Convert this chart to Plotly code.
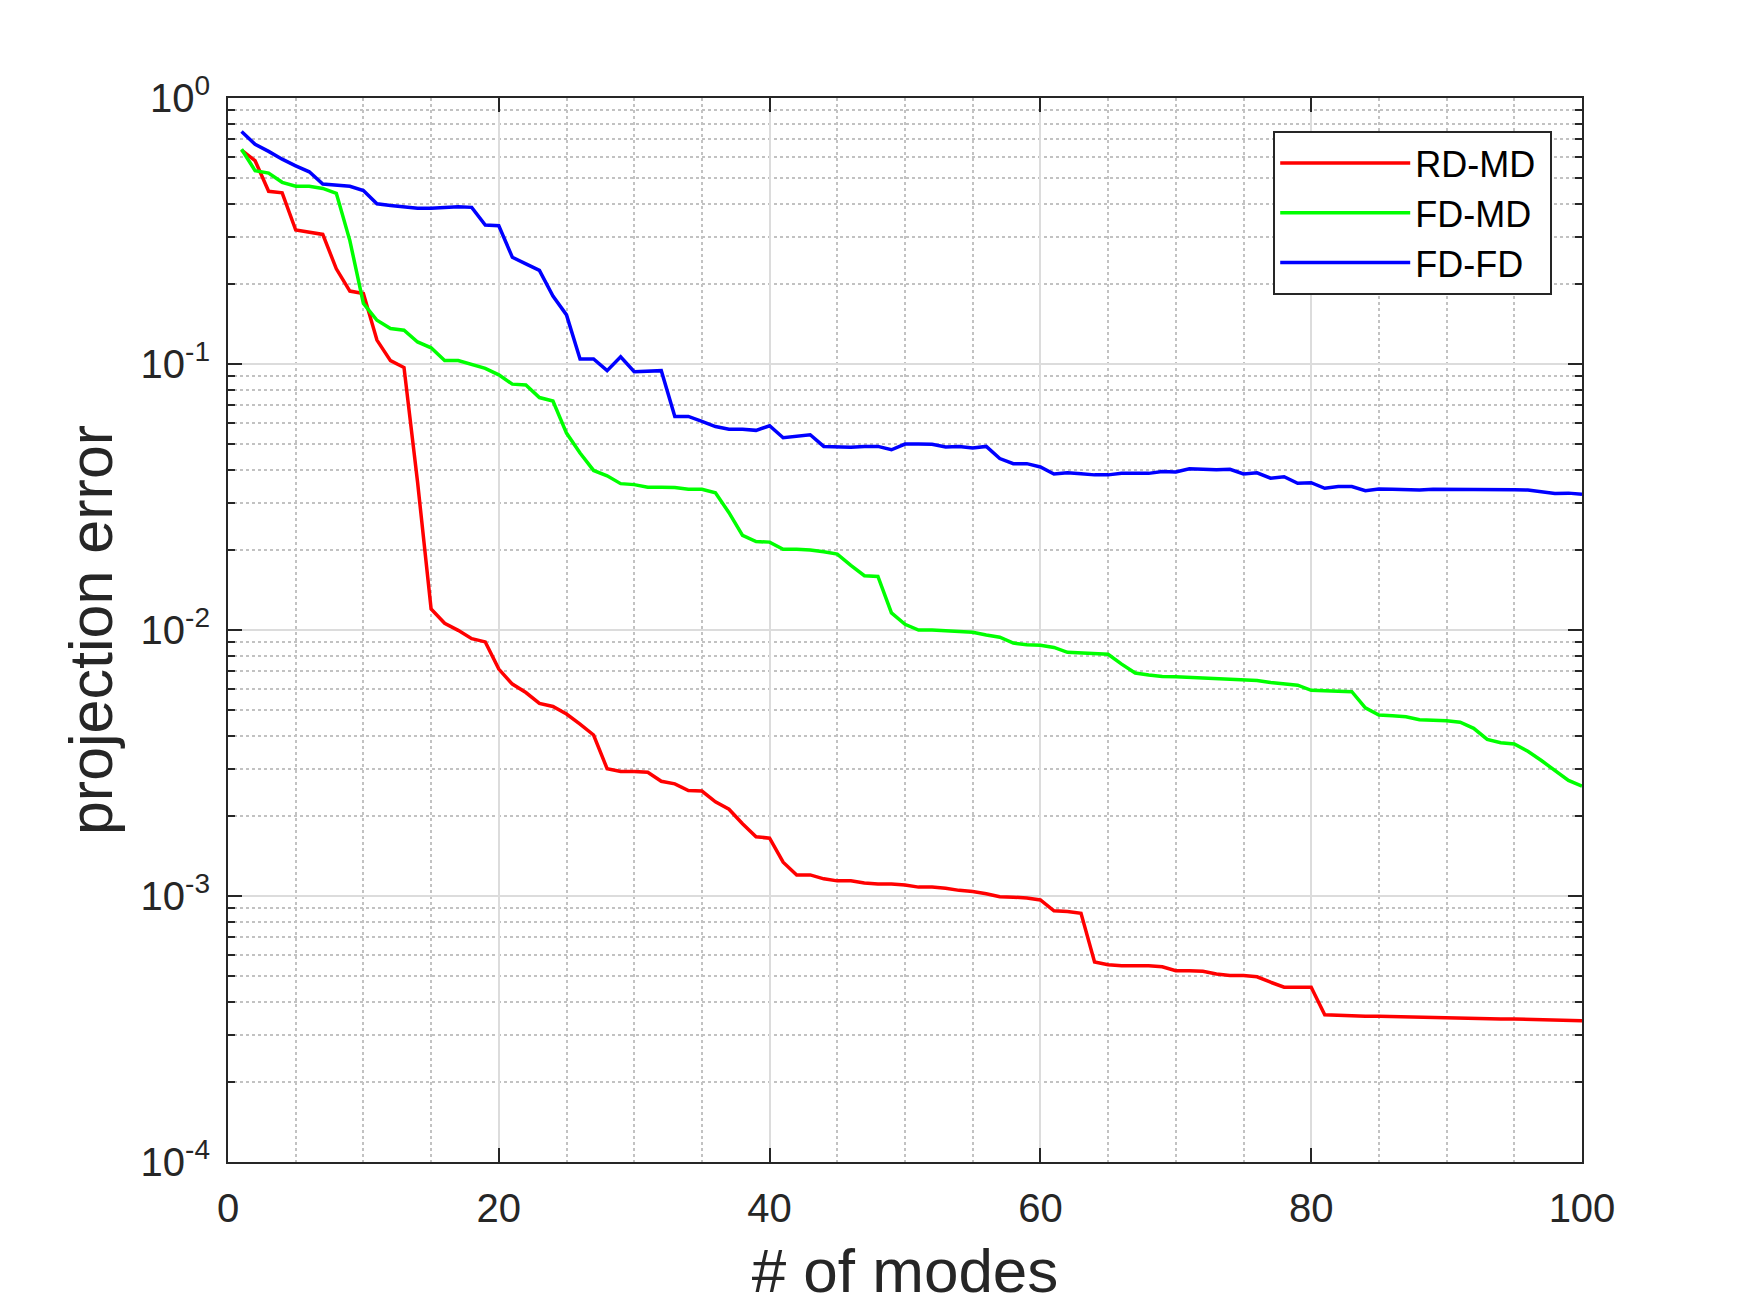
import plotly.graph_objects as go

# number of modes on the x axis
modes = list(range(1, 101))

rd_md = [0.637, 0.581, 0.446, 0.440, 0.319, 0.313, 0.307, 0.228, 0.188, 0.184,
         0.123, 0.103, 0.097, 0.036, 0.0120, 0.0106, 0.00997, 0.00928, 0.00902, 0.00713,
         0.00626, 0.00582, 0.00530, 0.00516, 0.00483, 0.00443, 0.00403, 0.00301, 0.00294, 0.00294,
         0.00292, 0.00270, 0.00264, 0.00249, 0.00248, 0.00226, 0.00212, 0.00187, 0.00167, 0.00165,
         0.00134, 0.00120, 0.00120, 0.00116, 0.00114, 0.00114, 0.00112, 0.00111, 0.00111, 0.00110,
         0.00108, 0.00108, 0.00107, 0.00105, 0.00104, 0.00102, 0.000994, 0.000990, 0.000983, 0.000966,
         0.000880, 0.000874, 0.000861, 0.000565, 0.000552, 0.000547, 0.000547, 0.000547, 0.000542, 0.000524,
         0.000524, 0.000521, 0.000509, 0.000503, 0.000502, 0.000497, 0.000474, 0.000454, 0.000454, 0.000454,
         0.000358, 0.000356, 0.000354, 0.000353, 0.000353, 0.000352, 0.000350, 0.000350, 0.000350, 0.000349,
         0.000348, 0.000346, 0.000346, 0.000345, 0.000345, 0.000344, 0.000343, 0.000342, 0.000341, 0.000340]

fd_md = [0.642, 0.533, 0.522, 0.482, 0.466, 0.466, 0.457, 0.438, 0.291, 0.169,
         0.146, 0.136, 0.134, 0.121, 0.115, 0.103, 0.103, 0.0999, 0.0963, 0.0910,
         0.0840, 0.0834, 0.0748, 0.0726, 0.0550, 0.0463, 0.0398, 0.0380, 0.0355, 0.0352,
         0.0344, 0.0344, 0.0343, 0.0338, 0.0338, 0.0328, 0.0276, 0.0227, 0.0215, 0.0214,
         0.0201, 0.0201, 0.0200, 0.0197, 0.0193, 0.0175, 0.0160, 0.0159, 0.0116, 0.0105,
         0.0100, 0.00999, 0.00994, 0.00990, 0.00980, 0.00957, 0.00940, 0.00893, 0.00880, 0.00876,
         0.00860, 0.00824, 0.00820, 0.00815, 0.00810, 0.00744, 0.00689, 0.00677, 0.00669, 0.00667,
         0.00663, 0.00659, 0.00657, 0.00654, 0.00652, 0.00646, 0.00635, 0.00629, 0.00620, 0.00593,
         0.00591, 0.00590, 0.00586, 0.00510, 0.00479, 0.00476, 0.00472, 0.00460, 0.00459, 0.00456,
         0.00450, 0.00427, 0.00388, 0.00377, 0.00373, 0.00350, 0.00323, 0.00296, 0.00272, 0.00259]

fd_fd = [0.748, 0.670, 0.630, 0.589, 0.556, 0.528, 0.475, 0.471, 0.466, 0.449,
         0.400, 0.394, 0.388, 0.385, 0.385, 0.387, 0.390, 0.388, 0.333, 0.331,
         0.252, 0.238, 0.225, 0.180, 0.153, 0.1044, 0.1044, 0.0944, 0.1065, 0.0936,
         0.0940, 0.0944, 0.0635, 0.0635, 0.0608, 0.0582, 0.0569, 0.0569, 0.0563, 0.0586,
         0.0528, 0.0534, 0.0542, 0.0490, 0.0489, 0.0486, 0.0490, 0.0490, 0.0476, 0.0500,
         0.0500, 0.0499, 0.0488, 0.0490, 0.0483, 0.0490, 0.0441, 0.0422, 0.0422, 0.0410,
         0.0386, 0.0390, 0.0387, 0.0383, 0.0383, 0.0388, 0.0388, 0.0388, 0.0394, 0.0393,
         0.0404, 0.0402, 0.0400, 0.0402, 0.0386, 0.0390, 0.0372, 0.0377, 0.0356, 0.0358,
         0.0341, 0.0346, 0.0346, 0.0334, 0.0339, 0.0338, 0.0336, 0.0336, 0.0338, 0.0338,
         0.0338, 0.0338, 0.0338, 0.0339, 0.0337, 0.0336, 0.0330, 0.0326, 0.0327, 0.0324]

series_names = ['RD-MD', 'FD-MD', 'FD-FD']
series_colors = ['#ff0000', '#00ff00', '#0000ff']

x_ticks = [0, 20, 40, 60, 80, 100]
y_ticks = [1e-4, 1e-3, 1e-2, 1e-1, 1e0]
y_tick_text = ['10<sup>-4</sup>', '10<sup>-3</sup>', '10<sup>-2</sup>', '10<sup>-1</sup>', '10<sup>0</sup>']

FONT = 'Liberation Sans, Arial, sans-serif'
AXIS_COL = '#262626'

fig = go.Figure()
for name, vals, col in zip(series_names, [rd_md, fd_md, fd_fd], series_colors):
    # trailing nbsp gives the legend box a bit of right padding
    fig.add_trace(go.Scatter(x=modes, y=vals, mode='lines', name=name + '\u00a0',
                             line=dict(color=col, width=3.5)))

# minor log positions 2..9 of each decade
y_minor = [k * 10.0 ** e for e in range(-4, 0) for k in range(2, 10)]

fig.update_xaxes(range=[0, 100], tickvals=x_ticks, automargin=False,
                 showline=True, linecolor=AXIS_COL, linewidth=2, mirror='allticks',
                 ticks='inside', ticklen=14, tickwidth=2, tickcolor=AXIS_COL,
                 showgrid=True, gridcolor='#dcdcdc', gridwidth=1.5, zeroline=False,
                 tickfont=dict(size=40, color=AXIS_COL, family=FONT),
                 ticklabelstandoff=10,
                 minor=dict(dtick=5, tick0=0, showgrid=True, gridcolor='#c2c2c2',
                            griddash='dot', gridwidth=1.5, ticks=''),
                 title=dict(text='# of modes', font=dict(size=62, color=AXIS_COL, family=FONT),
                            standoff=29))

fig.update_yaxes(type='log', range=[-4, 0], tickvals=y_ticks, ticktext=y_tick_text,
                 automargin=False,
                 showline=True, linecolor=AXIS_COL, linewidth=2, mirror='allticks',
                 ticks='inside', ticklen=14, tickwidth=2, tickcolor=AXIS_COL,
                 showgrid=True, gridcolor='#dcdcdc', gridwidth=1.5, zeroline=False,
                 tickfont=dict(size=40, color=AXIS_COL, family=FONT),
                 ticklabelstandoff=8,
                 minor=dict(tickvals=y_minor, showgrid=True, gridcolor='#c2c2c2',
                            griddash='dot', gridwidth=1.5, ticks='inside', ticklen=7,
                            tickwidth=1.5, tickcolor=AXIS_COL),
                 title=dict(text='projection error', font=dict(size=61, color=AXIS_COL, family=FONT),
                            standoff=8))

# page body adds an 8px margin, so the figure is shrunk to fit the window
fig.update_layout(
    width=1734, height=1297,
    margin=dict(l=220, r=160, t=90, b=143),
    paper_bgcolor='white', plot_bgcolor='white',
    font=dict(family=FONT, color=AXIS_COL),
    legend=dict(x=0.978, y=0.969, xanchor='right', yanchor='top',
                bgcolor='white', bordercolor=AXIS_COL, borderwidth=2,
                font=dict(size=36, color='black', family=FONT),
                itemwidth=130, tracegroupgap=0),
    showlegend=True,
)

fig.write_html("out.html")
